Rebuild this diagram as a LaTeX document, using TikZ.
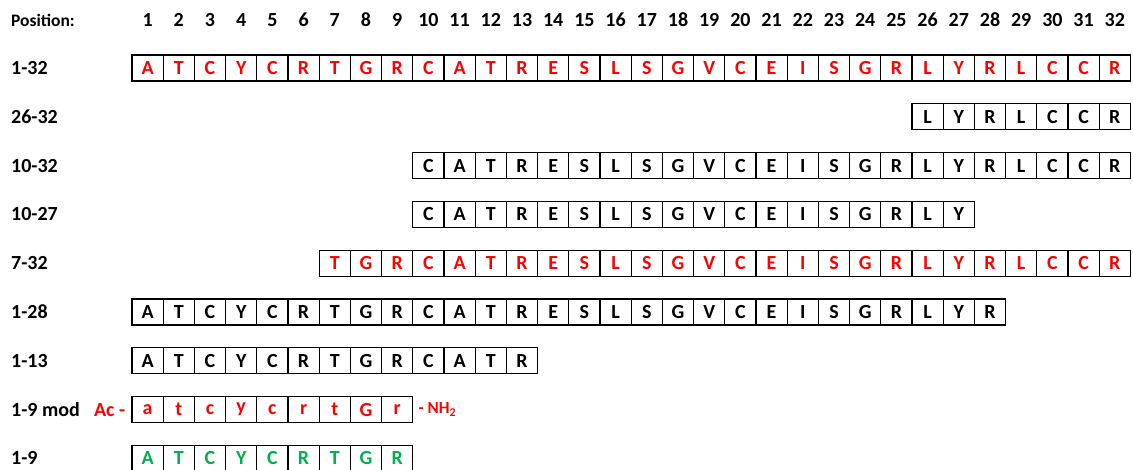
\documentclass[tikz,border=0pt]{standalone}
\usepackage{fontspec}
\setmainfont{Carlito}
\usepackage{tikz}
\usetikzlibrary{positioning}
\definecolor{pepred}{RGB}{255,0,0}
\definecolor{pepgreen}{RGB}{0,176,80}
\definecolor{pepblack}{RGB}{0,0,0}

\begin{document}
\begin{tikzpicture}[
    x=1pt, y=-1pt,
    font=\bfseries\fontsize{20}{24}\selectfont,
    cell/.style={draw=pepblack, line width=1.1pt, minimum width=31.2pt, minimum height=26pt, inner sep=0pt, anchor=center},
    rowlabel/.style={anchor=west, inner sep=0pt},
    posnum/.style={inner sep=0pt},
    capgroup/.style={text=pepred, inner sep=0pt}
]
\useasboundingbox (0,0) rectangle (1133,470);
\node[rowlabel, font=\bfseries\fontsize{17.5}{20}\selectfont] (poshead) at (11,20) {Position:};
\foreach \i in {1,...,32}
    \node[posnum] (pos\i) at ({132+31.2*(\i-0.5)},20) {\i};
% label / first position / colour / residues
\foreach \lab/\first/\col/\seq [count=\r] in {
    1-32/1/pepred/{A,T,C,Y,C,R,T,G,R,C,A,T,R,E,S,L,S,G,V,C,E,I,S,G,R,L,Y,R,L,C,C,R},
    26-32/26/pepblack/{L,Y,R,L,C,C,R},
    10-32/10/pepblack/{C,A,T,R,E,S,L,S,G,V,C,E,I,S,G,R,L,Y,R,L,C,C,R},
    10-27/10/pepblack/{C,A,T,R,E,S,L,S,G,V,C,E,I,S,G,R,L,Y},
    7-32/7/pepred/{T,G,R,C,A,T,R,E,S,L,S,G,V,C,E,I,S,G,R,L,Y,R,L,C,C,R},
    1-28/1/pepblack/{A,T,C,Y,C,R,T,G,R,C,A,T,R,E,S,L,S,G,V,C,E,I,S,G,R,L,Y,R},
    1-13/1/pepblack/{A,T,C,Y,C,R,T,G,R,C,A,T,R},
    1-9 mod/1/pepred/{a,t,c,y,c,r,t,G,r},
    1-9/1/pepgreen/{A,T,C,Y,C,R,T,G,R}}
{
    \pgfmathsetmacro{\rowy}{68+48.8*(\r-1)}
    \node[rowlabel] (lab\r) at (11,\rowy) {\lab};
    \foreach \aa [count=\k from \first] in \seq
        \node[cell, text=\col] (r\r-\k) at ({132+31.2*(\k-0.5)},\rowy) {\aa};
}
\node[capgroup, left=6pt of r8-1] (acetyl) {Ac -};
\node[capgroup, right=5pt of r8-9, font=\bfseries\fontsize{17}{20}\selectfont] (amide) {- NH\textsubscript{2}};
\end{tikzpicture}
\end{document}
